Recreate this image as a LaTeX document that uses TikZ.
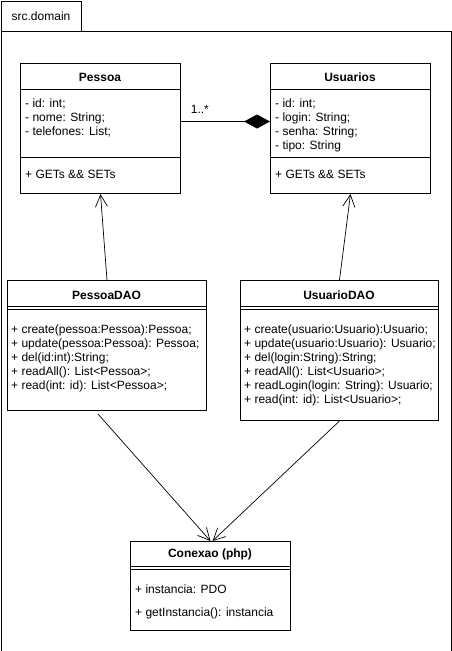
\documentclass[tikz,border=0pt]{standalone}
\usepackage{fontspec}
\setmainfont{Liberation Sans}
\usetikzlibrary{arrows.meta}
\tikzset{
	classbox/.style={draw, rectangle, inner sep=0, anchor=north west, line width=1pt},
	ctitle/.style={font=\fontsize{12}{14}\selectfont\bfseries, anchor=base, inner sep=0},
	member/.style={anchor=base west, inner sep=0},
	divider/.style={line width=1pt},
	dep/.style={line width=0.7pt, -{Straight Barb[length=12pt,width=12pt,line width=0.7pt]}},
	compos/.style={line width=1pt, -{Diamond[length=26pt,width=14pt]}}
}

\begin{document}
\begin{tikzpicture}[x=1pt, y=-1pt, font=\fontsize{12}{14}\selectfont]
\useasboundingbox (0,0) rectangle (451,651);
% package frame
\node[classbox, minimum width=80pt, minimum height=30pt] (tab) at (0.5,0.5) {src.domain};
\node[classbox, minimum width=450pt, minimum height=620pt] (frame) at (0.5,30.5) {};

% entity classes
\node[classbox, minimum width=160pt, minimum height=130pt] (pessoa) at (20,63) {};
\node[ctitle] (pessoaT) at (100,81) {Pessoa};
\draw[divider] ([yshift=-26pt]pessoa.north west) -- ([yshift=-26pt]pessoa.north east);
\draw[divider] ([yshift=-94pt]pessoa.north west) -- ([yshift=-94pt]pessoa.north east);
\foreach \m [count=\k] in {{- id: int;},{- nome: String;},{- telefones: List;}}{%
	\node[member] (pa\k) at (25,{93+14*\k}) {\m};
}
\node[member] (pm1) at (25,178) {+ GETs \&\& SETs};

\node[classbox, minimum width=160pt, minimum height=130pt] (usuarios) at (270,63) {};
\node[ctitle] (usuariosT) at (350,81) {Usuarios};
\draw[divider] ([yshift=-26pt]usuarios.north west) -- ([yshift=-26pt]usuarios.north east);
\draw[divider] ([yshift=-94pt]usuarios.north west) -- ([yshift=-94pt]usuarios.north east);
\foreach \m [count=\k] in {{- id: int;},{- login: String;},{- senha: String;},{- tipo: String}}{%
	\node[member] (ua\k) at (275,{93+14*\k}) {\m};
}
\node[member] (um1) at (275,178) {+ GETs \&\& SETs};

% composition
\draw[compos] ([yshift=7pt]pessoa.east) -- ([yshift=7pt]usuarios.west)
	node[at start, anchor=base west, xshift=6pt, yshift=8pt] (mult) {1..*};

% DAO classes
\node[classbox, minimum width=199pt, minimum height=130pt] (pdao) at (7,280) {};
\node[ctitle] (pdaoT) at (106.5,299) {PessoaDAO};
\draw[divider] ([yshift=-26pt]pdao.north west) -- ([yshift=-26pt]pdao.north east);
\draw[divider] ([yshift=-29pt]pdao.north west) -- ([yshift=-29pt]pdao.north east);
\foreach \m [count=\k] in {{+ create(pessoa:Pessoa):Pessoa;},{+ update(pessoa:Pessoa): Pessoa;},{+ del(id:int):String;},{+ readAll(): List<Pessoa>;},{+ read(int: id): List<Pessoa>;}}{%
	\node[member] (pdm\k) at (11,{319+14*\k}) {\m};
}

\node[classbox, minimum width=198pt, minimum height=140pt] (udao) at (240,280) {};
\node[ctitle] (udaoT) at (339,299) {UsuarioDAO};
\draw[divider] ([yshift=-26pt]udao.north west) -- ([yshift=-26pt]udao.north east);
\draw[divider] ([yshift=-29pt]udao.north west) -- ([yshift=-29pt]udao.north east);
\foreach \m [count=\k] in {{+ create(usuario:Usuario):Usuario;},{+ update(usuario:Usuario): Usuario;},{+ del(login:String):String;},{+ readAll(): List<Usuario>;},{+ readLogin(login: String): Usuario;},{+ read(int: id): List<Usuario>;}}{%
	\node[member] (udm\k) at (244,{319+14*\k}) {\m};
}

% connection class
\node[classbox, minimum width=160pt, minimum height=89pt] (conexao) at (130,541) {};
\node[ctitle] (conexaoT) at (210,557) {Conexao (php)};
\draw[divider] ([yshift=-25pt]conexao.north west) -- ([yshift=-25pt]conexao.north east);
\draw[divider] ([yshift=-28pt]conexao.north west) -- ([yshift=-28pt]conexao.north east);
\node[member] (ca1) at (135,593) {+ instancia: PDO};
\node[member] (cm1) at (135,616) {+ getInstancia(): instancia};

% dependencies
\draw[dep] (pdao.north) -- (pessoa.south);
\draw[dep] (udao.north) -- (usuarios.south);
\draw[dep] ([xshift=-9pt,yshift=-3pt]pdao.south) -- (conexao.north);
\draw[dep] (udao.south) -- ([xshift=2pt]conexao.north);
\end{tikzpicture}
\end{document}
